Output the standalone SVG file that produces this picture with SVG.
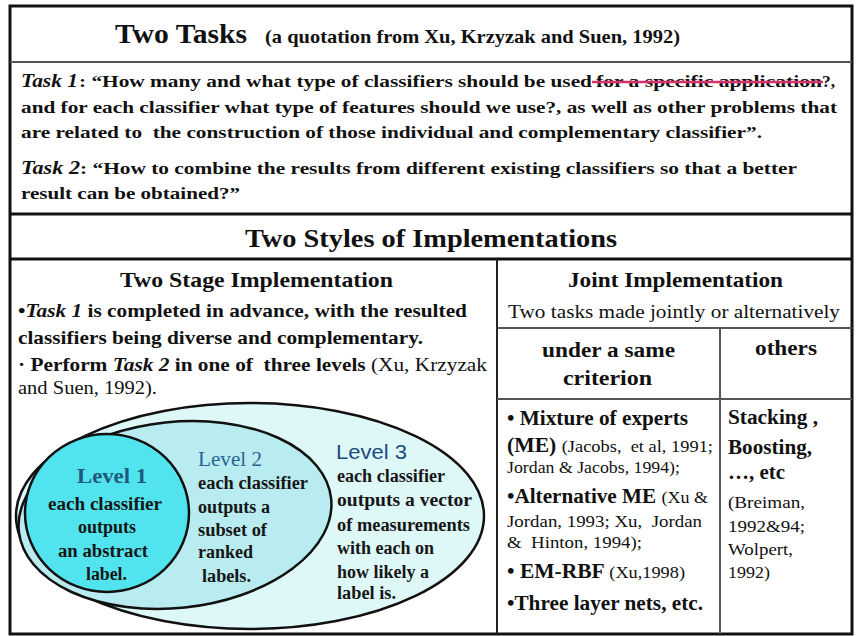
<svg xmlns="http://www.w3.org/2000/svg" width="857" height="636" viewBox="0 0 857 636">
<style>
text{font-family:"Liberation Serif","Times New Roman",serif;fill:#111}
.b{font-weight:bold}
.bi{font-weight:bold;font-style:italic}
.r{font-weight:normal}
.t17{font-size:17.5px}
.t19{font-size:19px}
.t20{font-size:20px}
.t17r{font-size:17px;font-weight:normal}
.lv{font-size:18px;font-weight:bold;fill:#161616}
.sans{font-family:"Liberation Sans",Arial,sans-serif}
.thick{stroke:#111;stroke-width:3;fill:none}
.thin{stroke:#555;stroke-width:2;fill:none}
.ell{stroke:#111;stroke-width:2.5}
</style>
<rect width="857" height="636" fill="#ffffff"/>

<g id="frame">
  <rect x="10" y="6" width="842" height="628" class="thick"/>
  <line x1="10" y1="62" x2="852" y2="62" class="thin"/>
  <line x1="10" y1="214" x2="852" y2="214" class="thick"/>
  <line x1="10" y1="259" x2="852" y2="259" class="thick"/>
  <line x1="497" y1="259" x2="497" y2="634" stroke="#222" stroke-width="2"/>
  <line x1="497" y1="328" x2="852" y2="328" class="thin"/>
  <line x1="720" y1="328" x2="720" y2="634" class="thin"/>
  <line x1="497" y1="399" x2="852" y2="399" class="thin"/>
</g>

<g id="two-tasks">
  <text x="115" y="43" class="b" font-size="27" textLength="132" lengthAdjust="spacingAndGlyphs">Two Tasks</text>
  <text x="265" y="43" class="b" font-size="19.5" textLength="415" lengthAdjust="spacingAndGlyphs">(a quotation from Xu, Krzyzak and Suen, 1992)</text>

  <text x="21" y="87" class="bi" font-size="19" textLength="57" lengthAdjust="spacingAndGlyphs">Task 1</text>
  <text x="79" y="87" class="b t17" textLength="513" lengthAdjust="spacingAndGlyphs">: “How many and what type of classifiers should be used</text>
  <text x="596" y="87" class="b t17" textLength="226" lengthAdjust="spacingAndGlyphs">for a specific application</text>
  <line x1="592" y1="82" x2="823" y2="82" stroke="#d6336c" stroke-width="2.5"/>
  <text x="822" y="87" class="b t17" textLength="13" lengthAdjust="spacingAndGlyphs">?,</text>
  <text x="21" y="113" class="b t17" textLength="816" lengthAdjust="spacingAndGlyphs">and for each classifier what type of features should we use?, as well as other problems that</text>
  <text x="21" y="138" class="b t17" textLength="741" lengthAdjust="spacingAndGlyphs" xml:space="preserve">are related to  the construction of those individual and complementary classifier”.</text>

  <text x="21" y="174" class="bi" font-size="19" textLength="59" lengthAdjust="spacingAndGlyphs">Task 2</text>
  <text x="80" y="174" class="b t17" textLength="717" lengthAdjust="spacingAndGlyphs">: “How to combine the results from different existing classifiers so that a better</text>
  <text x="21" y="199" class="b t17" textLength="219" lengthAdjust="spacingAndGlyphs">result can be obtained?”</text>
</g>

<g id="two-styles">
  <text x="245" y="247" class="b" font-size="26" textLength="372" lengthAdjust="spacingAndGlyphs">Two Styles of Implementations</text>
</g>

<g id="two-stage">
  <text x="120" y="287" class="b" font-size="22" textLength="273" lengthAdjust="spacingAndGlyphs">Two Stage Implementation</text>
  <text x="18" y="317" class="b t19" textLength="449" lengthAdjust="spacingAndGlyphs">•<tspan class="bi">Task 1</tspan> is completed in advance, with the resulted</text>
  <text x="18" y="344" class="b t19" textLength="405" lengthAdjust="spacingAndGlyphs">classifiers being diverse and complementary.</text>
  <text x="18" y="371" class="b" font-size="18.5" textLength="469" lengthAdjust="spacingAndGlyphs" xml:space="preserve">· Perform <tspan class="bi">Task 2</tspan> in one of  three levels <tspan class="r">(Xu, Krzyzak</tspan></text>
  <text x="18" y="394" class="r" font-size="18" textLength="139" lengthAdjust="spacingAndGlyphs">and Suen, 1992).</text>
</g>

<g id="level3">
  <ellipse cx="250" cy="516" rx="234" ry="113" fill="#def8f8" class="ell"/>
  <text x="336" y="459" class="sans" font-size="20" style="fill:#1b4a82" textLength="71" lengthAdjust="spacingAndGlyphs">Level 3</text>
  <text x="337" y="482" class="lv" textLength="108" lengthAdjust="spacingAndGlyphs">each classifier</text>
  <text x="337" y="506" class="lv" textLength="135" lengthAdjust="spacingAndGlyphs">outputs a vector</text>
  <text x="337" y="531" class="lv" textLength="133" lengthAdjust="spacingAndGlyphs">of measurements</text>
  <text x="337" y="554" class="lv" textLength="97" lengthAdjust="spacingAndGlyphs">with each on</text>
  <text x="337" y="578" class="lv" textLength="92" lengthAdjust="spacingAndGlyphs">how likely a</text>
  <text x="337" y="599" class="lv" textLength="59" lengthAdjust="spacingAndGlyphs">label is.</text>
</g>

<g id="level2">
  <ellipse cx="175" cy="515" rx="157" ry="93" transform="rotate(-6 175 515)" fill="#b8ecf0" class="ell"/>
  <text x="198" y="466" font-size="20" style="fill:#2a6496" textLength="64" lengthAdjust="spacingAndGlyphs">Level 2</text>
  <text x="198" y="489" class="lv" textLength="110" lengthAdjust="spacingAndGlyphs">each classifier</text>
  <text x="198" y="513" class="lv" textLength="72" lengthAdjust="spacingAndGlyphs">outputs a</text>
  <text x="198" y="536" class="lv" textLength="69" lengthAdjust="spacingAndGlyphs">subset of</text>
  <text x="198" y="558" class="lv" textLength="55" lengthAdjust="spacingAndGlyphs">ranked</text>
  <text x="202" y="582" class="lv" textLength="49" lengthAdjust="spacingAndGlyphs">labels.</text>
</g>

<g id="level1">
  <ellipse cx="107" cy="513" rx="82" ry="79" fill="#52e4ee" class="ell"/>
  <text x="77" y="483" class="b" font-size="22" style="fill:#1e5a7a" textLength="70" lengthAdjust="spacingAndGlyphs">Level 1</text>
  <text x="48" y="510" class="lv" textLength="114" lengthAdjust="spacingAndGlyphs">each classifier</text>
  <text x="78" y="533" class="lv" textLength="58" lengthAdjust="spacingAndGlyphs">outputs</text>
  <text x="58" y="557" class="lv" textLength="90" lengthAdjust="spacingAndGlyphs">an abstract</text>
  <text x="86" y="580" class="lv" textLength="41" lengthAdjust="spacingAndGlyphs">label.</text>
</g>

<g id="joint">
  <text x="568" y="287" class="b" font-size="22" textLength="215" lengthAdjust="spacingAndGlyphs">Joint Implementation</text>
  <text x="508" y="318" class="r t19" textLength="332" lengthAdjust="spacingAndGlyphs">Two tasks made jointly or alternatively</text>
</g>

<g id="same-criterion">
  <text x="542" y="357" class="b t20" textLength="133" lengthAdjust="spacingAndGlyphs">under a same</text>
  <text x="563" y="385" class="b t20" textLength="89" lengthAdjust="spacingAndGlyphs">criterion</text>
  <text x="507" y="425" class="b t20" textLength="181" lengthAdjust="spacingAndGlyphs">• Mixture of experts</text>
  <text x="507" y="452" class="b t20" textLength="206" lengthAdjust="spacingAndGlyphs" xml:space="preserve">(ME) <tspan class="t17r">(Jacobs,  et al, 1991;</tspan></text>
  <text x="507" y="473" class="t17r" textLength="173" lengthAdjust="spacingAndGlyphs">Jordan &amp; Jacobs, 1994);</text>
  <text x="507" y="503" class="b t20" textLength="201" lengthAdjust="spacingAndGlyphs">•Alternative ME <tspan class="t17r">(Xu &amp;</tspan></text>
  <text x="507" y="527" class="t17r" textLength="195" lengthAdjust="spacingAndGlyphs" xml:space="preserve">Jordan, 1993; Xu,  Jordan</text>
  <text x="507" y="548" class="t17r" textLength="135" lengthAdjust="spacingAndGlyphs" xml:space="preserve">&amp;  Hinton, 1994);</text>
  <text x="507" y="578" class="b t20" textLength="178" lengthAdjust="spacingAndGlyphs">• EM-RBF <tspan class="t17r">(Xu,1998)</tspan></text>
  <text x="507" y="610" class="b t20" textLength="196" lengthAdjust="spacingAndGlyphs">•Three layer nets, etc.</text>
</g>

<g id="others">
  <text x="755" y="355" class="b t20" textLength="62" lengthAdjust="spacingAndGlyphs">others</text>
  <text x="728" y="424" class="b t20" textLength="90" lengthAdjust="spacingAndGlyphs">Stacking ,</text>
  <text x="728" y="454" class="b t20" textLength="84" lengthAdjust="spacingAndGlyphs">Boosting,</text>
  <text x="728" y="479" class="b t20" textLength="57" lengthAdjust="spacingAndGlyphs">…, etc</text>
  <text x="728" y="508" class="t17r" textLength="77" lengthAdjust="spacingAndGlyphs">(Breiman,</text>
  <text x="728" y="532" class="t17r" textLength="77" lengthAdjust="spacingAndGlyphs">1992&amp;94;</text>
  <text x="728" y="555" class="t17r" textLength="65" lengthAdjust="spacingAndGlyphs">Wolpert,</text>
  <text x="728" y="578" class="t17r" textLength="42" lengthAdjust="spacingAndGlyphs">1992)</text>
</g>

<g id="connectors"></g>
</svg>
